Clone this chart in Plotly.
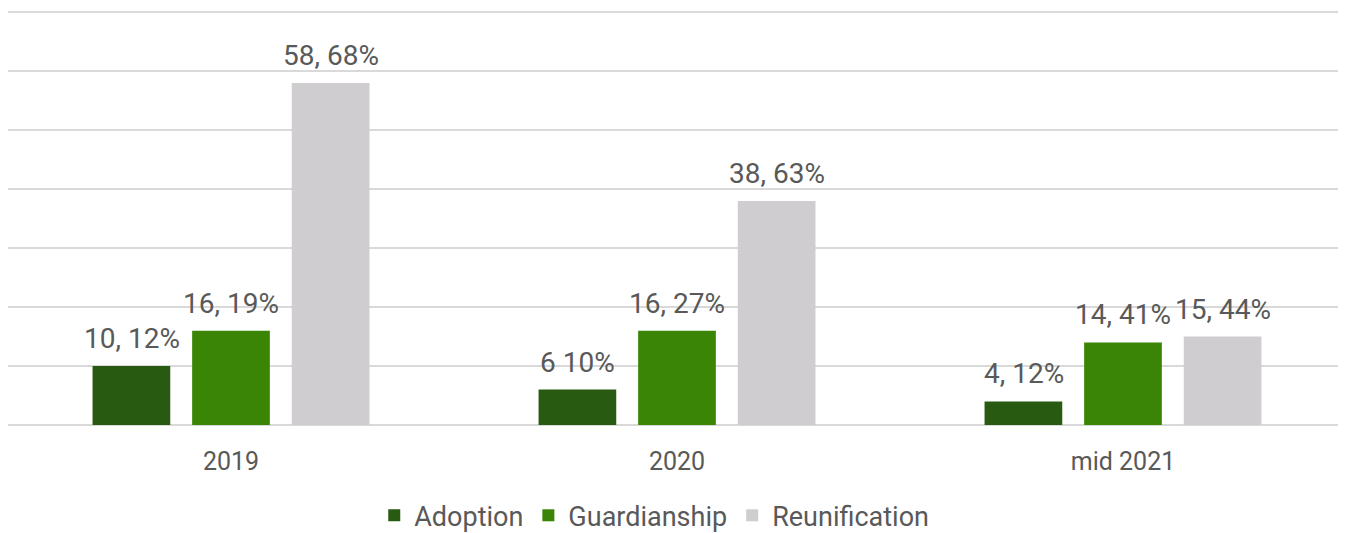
import plotly.graph_objects as go

categories = ["2019", "2020", "mid 2021"]
adoption = [10, 6, 4]
guardianship = [16, 16, 14]
reunification = [58, 38, 15]
adoption_labels = ["10, 12%", "6 10%", "4, 12%"]
guardianship_labels = ["16, 19%", "16, 27%", "14, 41%"]
reunification_labels = ["58, 68%", "38, 63%", "15, 44%"]

series = [
    ("Adoption", adoption, adoption_labels, "#285A12"),
    ("Guardianship", guardianship, guardianship_labels, "#3A8505"),
    ("Reunification", reunification, reunification_labels, "#CFCDCF"),
]

FONT = "Roboto, Arial, sans-serif"
fig = go.Figure()
slot_px = 99.5
for i, (name, vals, labels, color) in enumerate(series):
    fig.add_trace(go.Bar(
        name=name, x=categories, y=vals,
        marker=dict(color=color, line=dict(width=0)),
    ))
    for j, (v, lab) in enumerate(zip(vals, labels)):
        # category axis: annotation x given as category index
        fig.add_annotation(
            x=j, y=v, xref="x", yref="y", text=lab, showarrow=False,
            xanchor="center", yanchor="bottom", xshift=(i - 1) * slot_px, yshift=9,
            font=dict(family=FONT, size=28, color="#595959"),
        )

fig.update_layout(
    width=1338, height=525,
    margin=dict(l=0, r=0, t=3, b=108, autoexpand=False),
    paper_bgcolor="white", plot_bgcolor="white",
    font=dict(family=FONT, color="#595959", size=26),
    barmode="group", bargap=0.33, bargroupgap=0.22,
    showlegend=True,
    legend=dict(orientation="h", x=0.483, xanchor="center", y=-0.16, yanchor="top",
                font=dict(family=FONT, size=27, color="#595959")),
    yaxis=dict(range=[0, 70.2], tickvals=[0, 10, 20, 30, 40, 50, 60, 70], showgrid=True,
               gridcolor="#D9D9D9", gridwidth=2, automargin=False,
               zeroline=True, zerolinecolor="#D9D9D9", zerolinewidth=2,
               showticklabels=False, fixedrange=True),
    xaxis=dict(type="category", categoryorder="array", categoryarray=categories,
               range=[-0.5, len(categories) - 0.5],
               showgrid=False, showline=False, ticks="", automargin=False,
               ticklabelstandoff=19,
               tickfont=dict(family=FONT, size=25, color="#595959")),
)

fig.write_html("out.html")
